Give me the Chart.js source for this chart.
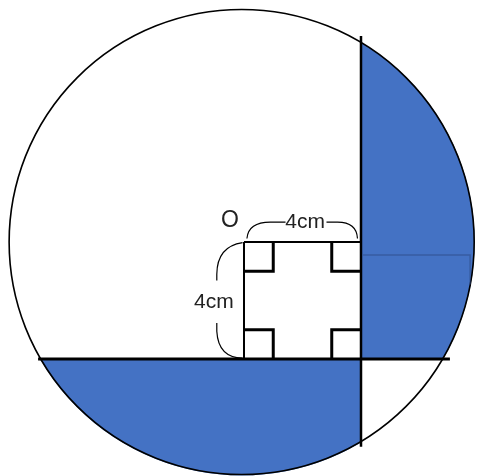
<!DOCTYPE html>
<html>
<head>
<meta charset="utf-8">
<script src="https://cdn.jsdelivr.net/npm/chart.js@4"></script>
<style>
  body { margin: 0; background: #fff; }
  canvas { display: block; }
</style>
</head>
<body>
<canvas id="myChart" width="477" height="476"></canvas>
<script>
const ctx = document.getElementById('myChart');

// everything in cm, O at (0,0)
const CIRCLE_CENTER = [-0.08, 0];
const CIRCLE_R = 7.95;
const SQUARE = [{x:0,y:0},{x:4,y:0},{x:4,y:-4},{x:0,y:-4},{x:0,y:0}];
const CORNER_TL = [{x:1,y:0},{x:1,y:-1},{x:0,y:-1}];
const CORNER_TR = [{x:3,y:0},{x:3,y:-1},{x:4,y:-1}];
const CORNER_BL = [{x:0,y:-3},{x:1,y:-3},{x:1,y:-4}];
const CORNER_BR = [{x:4,y:-3},{x:3,y:-3},{x:3,y:-4}];
const V_LINE = [{x:4,y:7.04},{x:4,y:-7.0}];
const H_LINE = [{x:-7.04,y:-4},{x:7.04,y:-4}];
const FAINT_EDGE = [{x:4.07,y:-0.44},{x:7.73,y:-0.44},{x:7.73,y:-1.45}];

const LABELS = ['O', '4cm', '4cm'];
const LABEL_X = [-0.48, 2.09, -1.03];
const LABEL_Y = [0.72, 0.68, -2.05];

// braces: [start, control, end, then straight to]
const BRACES = [
  [[0.10,0.12],[0.15,0.68],[0.9,0.68],[1.42,0.68]],
  [[3.88,0.12],[3.85,0.68],[3.2,0.68],[2.82,0.68]],
  [[-0.05,-0.02],[-0.92,-0.15],[-0.93,-1.1],[-0.93,-1.32]],
  [[-0.05,-3.97],[-0.88,-3.95],[-0.93,-3.05],[-0.93,-2.77]]
];

const BLUE = '#4472C4';

function lineSet(data, width, color) {
  return {
    data: data,
    showLine: true,
    borderColor: color || '#000',
    borderWidth: width,
    pointRadius: 0,
    tension: 0,
    fill: false,
    borderJoinStyle: 'miter',
    borderCapStyle: 'butt'
  };
}

const geometry = {
  id: 'geometry',
  beforeDatasetsDraw(chart) {
    const c = chart.ctx, sx = chart.scales.x, sy = chart.scales.y;
    const cx = sx.getPixelForValue(CIRCLE_CENTER[0]);
    const cy = sy.getPixelForValue(CIRCLE_CENTER[1]);
    const r = sx.getPixelForValue(CIRCLE_CENTER[0] + CIRCLE_R) - cx;
    const px4 = sx.getPixelForValue(4), pyM4 = sy.getPixelForValue(-4);
    c.save();
    c.fillStyle = BLUE;
    // right part
    c.save();
    c.beginPath();
    c.rect(px4, 0, chart.width - px4, pyM4);
    c.clip();
    c.beginPath();
    c.arc(cx + 0.5, cy, r, 0, Math.PI * 2);
    c.fill();
    c.restore();
    // bottom part
    c.save();
    c.beginPath();
    c.rect(0, pyM4, px4, chart.height - pyM4);
    c.clip();
    c.beginPath();
    c.arc(cx, cy + 1, r, 0, Math.PI * 2);
    c.fill();
    c.restore();
    // circle outline
    c.beginPath();
    c.arc(cx, cy, r, 0, Math.PI * 2);
    c.lineWidth = 1.6;
    c.strokeStyle = '#000';
    c.stroke();
    c.restore();
  },
  afterDatasetsDraw(chart) {
    const c = chart.ctx, sx = chart.scales.x, sy = chart.scales.y;
    const X = v => sx.getPixelForValue(v), Y = v => sy.getPixelForValue(v);
    c.save();
    c.strokeStyle = '#000';
    c.lineWidth = 1.2;
    BRACES.forEach(b => {
      c.beginPath();
      c.moveTo(X(b[0][0]), Y(b[0][1]));
      c.quadraticCurveTo(X(b[1][0]), Y(b[1][1]), X(b[2][0]), Y(b[2][1]));
      c.lineTo(X(b[3][0]), Y(b[3][1]));
      c.stroke();
    });
    c.fillStyle = '#222';
    c.textAlign = 'center';
    c.textBaseline = 'middle';
    LABELS.forEach((t, i) => {
      c.font = (i === 0 ? '23px' : '21px') + ' "Liberation Sans", Arial, sans-serif';
      c.fillText(t, X(LABEL_X[i]), Y(LABEL_Y[i]));
    });
    c.restore();
  }
};

window.myChart = new Chart(ctx, {
  type: 'scatter',
  data: {
    datasets: [
      lineSet(FAINT_EDGE, 1.5, 'rgba(45,75,135,0.55)'),
      lineSet(SQUARE, 2),
      lineSet(CORNER_TL, 3),
      lineSet(CORNER_TR, 3),
      lineSet(CORNER_BL, 3),
      lineSet(CORNER_BR, 3),
      lineSet(V_LINE, 2.5),
      lineSet(H_LINE, 3)
    ]
  },
  options: {
    responsive: false,
    animation: false,
    events: [],
    layout: { padding: 0 },
    plugins: {
      legend: { display: false },
      tooltip: { enabled: false },
      title: { display: false }
    },
    scales: {
      x: { type: 'linear', min: -8.342, max: 7.966, display: false },
      y: { type: 'linear', min: -8.0, max: 8.274, display: false }
    }
  },
  plugins: [geometry]
});
</script>
</body>
</html>
